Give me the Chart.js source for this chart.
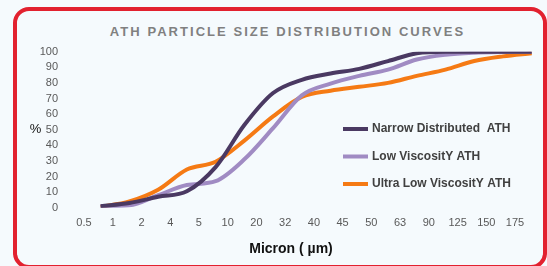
<!DOCTYPE html>
<html lang="en">
<head>
<meta charset="UTF-8">
<title>ATH Particle Size Distribution Curves</title>
<script src="https://cdn.jsdelivr.net/npm/chart.js"></script>
<style>
    html, body {
        margin: 0;
        padding: 0;
        background: #f5fafd;
    }
    #wrap {
        position: relative;
        width: 547px;
        height: 266px;
        overflow: hidden;
    }
    #frame {
        position: absolute;
        left: 13px;
        top: 7px;
        width: 534px;
        height: 262px;
        box-sizing: border-box;
        border: 4px solid #e2212f;
        border-radius: 16px;
    }
    #title {
        position: absolute;
        left: 0;
        width: 575px;
        top: 24px;
        text-align: center;
        font: bold 13px 'Liberation Sans', sans-serif;
        color: #808080;
        letter-spacing: 2.05px;
    }
    canvas {
        position: absolute;
        left: 0;
        top: 0;
    }
</style>
</head>
<body>
<div id="wrap">
    <div id="frame"></div>
    <div id="title">ATH PARTICLE SIZE DISTRIBUTION CURVES</div>
    <canvas id="psd" width="547" height="266"></canvas>
</div>
<script>
    // particle size categories (micron)
    const sizeLabels = ['0.5', '1', '2', '4', '5', '10', '20', '32', '40', '45', '50', '63', '90', '125', '150', '175'];

    // cumulative % passing
    const narrowATH = [1, 3, 7, 10.5, 26, 53, 73.5, 82, 86, 89, 94, 99, 100, 100, 100, 100];
    const lowViscATH = [1, 1.5, 8, 14.5, 17, 31, 51, 72, 79.5, 84.5, 88.5, 95, 98, 99.3, 99.8, 100];
    const ultraLowATH = [0.5, 4, 11.5, 24.5, 29.5, 43, 58.5, 71, 75, 77.5, 80, 84.5, 88.5, 94, 97, 99];

    const seriesNames = ['Narrow Distributed  ATH', 'Low ViscositY ATH', 'Ultra Low ViscositY ATH'];
    const seriesColors = ['#4a3962', '#a08bc3', '#f57a14'];

    // the curves sit a bit right of the category labels in the original
    const lineShift = 0.58;

    const toPoints = arr => arr.map((v, i) => ({ x: i + lineShift, y: v }));

    const FONT = "'Liberation Sans', sans-serif";

    // axis titles and the in-plot legend
    const overlayText = {
        id: 'overlayText',
        afterDraw(chart) {
            const ctx = chart.ctx;
            ctx.save();
            ctx.textBaseline = 'middle';
            ctx.textAlign = 'center';
            ctx.fillStyle = '#111';
            ctx.font = '13px ' + FONT;
            ctx.fillText('%', 35.5, 129);
            ctx.font = 'bold 14px ' + FONT;
            ctx.fillText('Micron ( µm)', 291, 249);

            chart.data.datasets.forEach((ds, i) => {
                const y = 129 + i * 27.5;
                ctx.strokeStyle = ds.borderColor;
                ctx.lineWidth = 4;
                ctx.beginPath();
                ctx.moveTo(343, y);
                ctx.lineTo(368, y);
                ctx.stroke();
                ctx.fillStyle = '#404040';
                ctx.textAlign = 'left';
                ctx.font = 'bold 12px ' + FONT;
                ctx.fillText(ds.label, 372, y);
            });
            ctx.restore();
        }
    };

    const datasets = [narrowATH, lowViscATH, ultraLowATH].map((arr, i) => ({
        label: seriesNames[i],
        data: toPoints(arr),
        borderColor: seriesColors[i],
        backgroundColor: seriesColors[i],
        borderWidth: 4,
        pointRadius: 0,
        tension: 0.4,
        cubicInterpolationMode: 'monotone',
        fill: false
    }));

    new Chart(document.getElementById('psd'), {
        type: 'line',
        data: { datasets: datasets },
        options: {
            responsive: false,
            animation: false,
            layout: {
                padding: { left: 0, top: 51.7, right: 10.4, bottom: 0 }
            },
            plugins: {
                legend: { display: false },
                tooltip: { enabled: false }
            },
            scales: {
                x: {
                    type: 'linear',
                    min: -0.5,
                    max: 15.75,
                    grid: { display: false, drawTicks: false },
                    border: { display: false },
                    afterBuildTicks: scale => {
                        scale.ticks = sizeLabels.map((_, i) => ({ value: i }));
                    },
                    afterFit: scale => { scale.height = 58.3; },
                    ticks: {
                        padding: 8.7,
                        color: '#595959',
                        font: { family: FONT, size: 11 },
                        maxRotation: 0,
                        autoSkip: false,
                        callback: v => sizeLabels[v]
                    }
                },
                y: {
                    min: 0,
                    max: 100,
                    grid: { display: false, drawTicks: false },
                    border: { display: false },
                    afterFit: scale => { scale.width = 69.6; },
                    ticks: {
                        stepSize: 10,
                        autoSkip: false,
                        padding: 11.6,
                        color: '#595959',
                        font: { family: FONT, size: 11 }
                    }
                }
            }
        },
        plugins: [overlayText]
    });
</script>
</body>
</html>
